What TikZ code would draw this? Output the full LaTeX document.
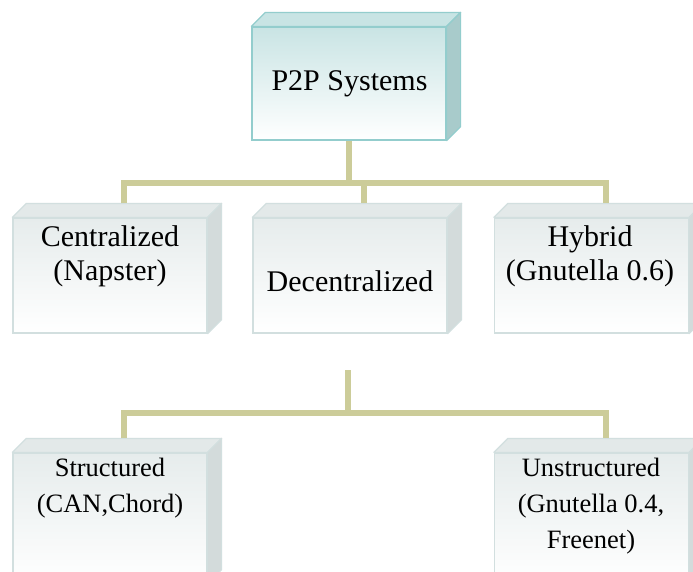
\documentclass[tikz,border=0pt]{standalone}
\usepackage{fontspec}
\setmainfont{Liberation Serif}
\newfontfamily\tnr{Liberation Serif}
\definecolor{connc}{HTML}{CCCC99}
\definecolor{tealfront}{HTML}{C9E4E4}
\definecolor{tealborder}{HTML}{93CDCD}
\definecolor{tealtop}{HTML}{C8E4E4}
\definecolor{tealside}{HTML}{A8CBCB}
\definecolor{grayfront}{HTML}{E6ECEC}
\definecolor{grayborder}{HTML}{D2DFDF}
\definecolor{graytop}{HTML}{E3E9E9}
\definecolor{grayside}{HTML}{D3DBDB}
\tikzset{
  connector/.style={draw=connc, line width=6pt, line join=miter},
  tealbox/.style={draw=tealborder, line width=1.2pt, top color=tealfront, bottom color=white, minimum width=194pt, minimum height=113pt, inner sep=0pt},
  graybox/.style={draw=grayborder, line width=1.2pt, top color=grayfront, bottom color=white, minimum width=194pt, minimum height=115pt, inner sep=0pt},
  tealtopf/.style={draw=tealborder, line width=1.2pt, fill=tealtop, line join=round},
  tealsidef/.style={draw=tealborder, line width=1.2pt, fill=tealside, line join=round},
  graytopf/.style={draw=grayborder, line width=1.2pt, fill=graytop, line join=round},
  graysidef/.style={draw=grayborder, line width=1.2pt, fill=grayside, line join=round},
  lblbig/.style={font=\tnr\fontsize{30}{34}\selectfont, align=center, inner sep=0pt},
  lblsmall/.style={font=\tnr\fontsize{26.5}{36}\selectfont, align=center, inner sep=0pt},
}
\newcommand\cubefaces[3]{%
  \draw[#2] (#1.north west) -- ++(14,-14) -- ([shift={(14,-14)}]#1.north east) -- (#1.north east) -- cycle;
  \draw[#3] (#1.north east) -- ++(14,-14) -- ([shift={(14,-14)}]#1.south east) -- (#1.south east) -- cycle;
  \coordinate (#1-top) at ([shift={(14,-14)}]#1.north);
}
\begin{document}
\begin{tikzpicture}[x=1pt,y=-1pt]
\useasboundingbox (0,0) rectangle (693,571);
\clip (0,0) rectangle (693,571);
\fill[white] (0,0) rectangle (693,571);

% junction coordinates
\coordinate (j1) at (348,183);
\coordinate (j2) at (348,413);
\coordinate (dstub) at (348,370);

% boxes (front faces)
\node[tealbox] (p2p) at (349,83.5) {};
\node[graybox] (cen) at (110,275.5) {};
\node[graybox] (dec) at (350,275.5) {};
\node[graybox] (hyb) at (591.5,275.5) {};
\node[graybox, minimum height=130pt] (str) at (110,518) {};
\node[graybox, minimum height=130pt] (uns) at (591.5,518) {};

\cubefaces{p2p}{tealtopf}{tealsidef}
\cubefaces{cen}{graytopf}{graysidef}
\cubefaces{dec}{graytopf}{graysidef}
\cubefaces{hyb}{graytopf}{graysidef}
\cubefaces{str}{graytopf}{graysidef}
\cubefaces{uns}{graytopf}{graysidef}

% connectors
\draw[connector] (p2p.south) -- (p2p.south |- j1);
\draw[connector] (cen-top) -- (cen-top |- j1) -- (hyb-top |- j1) -- (hyb-top);
\draw[connector] (dec-top |- j1) -- (dec-top);
\draw[connector] (dstub) -- (j2);
\draw[connector] (str-top) -- (str-top |- j2) -- (uns-top |- j2) -- (uns-top);

% labels
\node[lblbig] (p2pl) at (349.5,84) {P2P Systems};
\node[lblbig] (cenl) at (110,256) {Centralized\\(Napster)};
\node[lblbig] (decl) at (350,281) {Decentralized};
\node[lblbig] (hybl) at (590,256) {Hybrid\\(Gnutella 0.6)};
\node[lblsmall] (strl) at (110,488) {Structured\\(CAN,Chord)};
\node[lblsmall] (unsl) at (591,506) {Unstructured\\(Gnutella 0.4,\\Freenet)};
\end{tikzpicture}
\end{document}
